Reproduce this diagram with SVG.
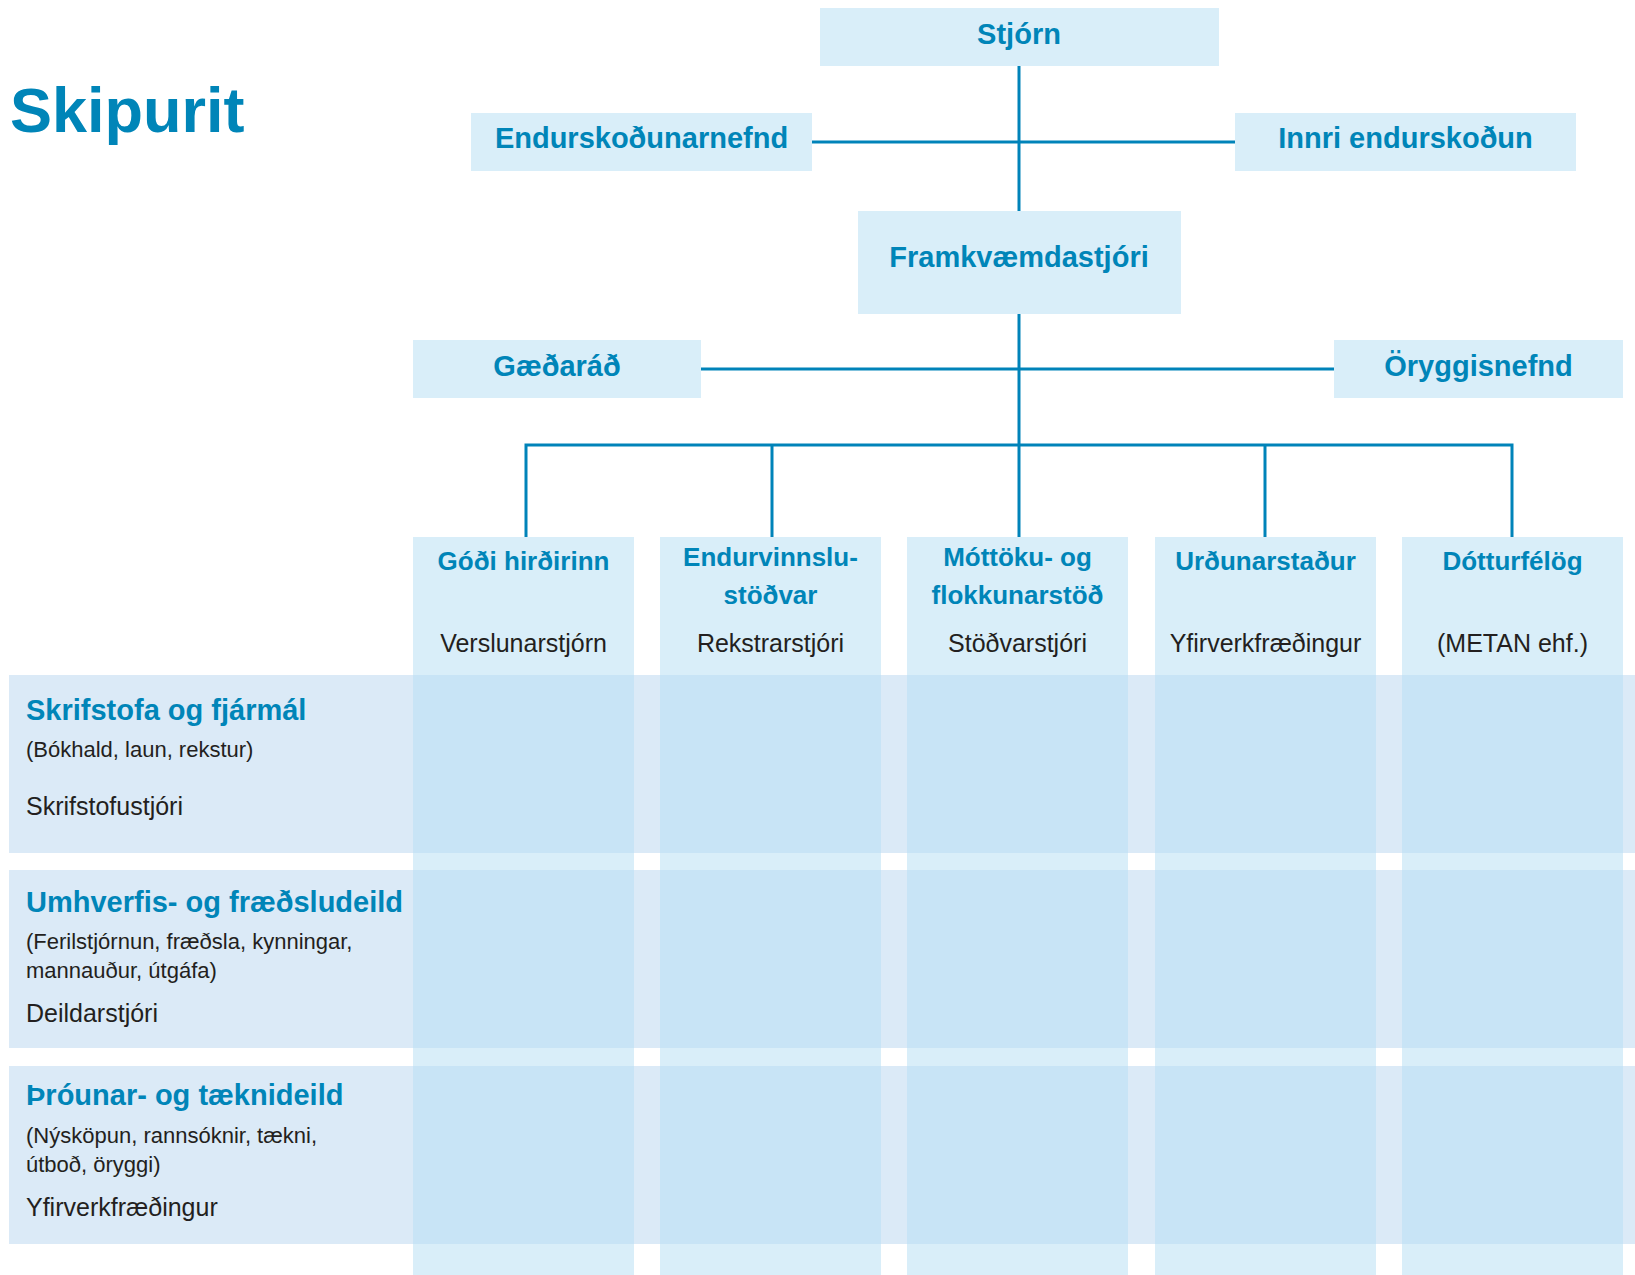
<svg xmlns="http://www.w3.org/2000/svg" width="1635" height="1275" viewBox="0 0 1635 1275">
<defs>
<style>
.box{fill:#d9eef9}
.col{fill:#d9eef9}
.row{fill:#dbeaf7}
.ov{fill:#c8e4f6}
.conn{stroke:#0083b9;stroke-width:3;fill:none}
.t{font-family:"Liberation Sans",Arial,sans-serif;font-weight:bold;fill:#0085b8;font-size:29px}
.h{font-family:"Liberation Sans",Arial,sans-serif;font-weight:bold;fill:#0085b8;font-size:26px;text-anchor:middle}
.r{font-family:"Liberation Sans",Arial,sans-serif;fill:#231f20;font-size:25px}
.s{font-family:"Liberation Sans",Arial,sans-serif;fill:#231f20;font-size:22px}
.mid{text-anchor:middle}
</style>
<clipPath id="rowsClip">
<rect x="9" y="675" width="1626" height="178"/>
<rect x="9" y="870" width="1626" height="178"/>
<rect x="9" y="1066" width="1626" height="178"/>
</clipPath>
</defs>
<rect width="1635" height="1275" fill="#ffffff"/>

<text id="title" x="10" y="132" font-family="Liberation Sans, Arial, sans-serif" font-weight="bold" font-size="63" fill="#0085b8">Skipurit</text>

<!-- columns -->
<g id="columns-bg">
<rect class="col" x="413" y="537" width="221" height="738"/>
<rect class="col" x="660" y="537" width="221" height="738"/>
<rect class="col" x="907" y="537" width="221" height="738"/>
<rect class="col" x="1155" y="537" width="221" height="738"/>
<rect class="col" x="1402" y="537" width="221" height="738"/>
</g>
<!-- rows -->
<g id="rows-bg">
<rect class="row" x="9" y="675" width="1626" height="178"/>
<rect class="row" x="9" y="870" width="1626" height="178"/>
<rect class="row" x="9" y="1066" width="1626" height="178"/>
</g>
<g id="overlaps" clip-path="url(#rowsClip)">
<rect class="ov" x="413" y="537" width="221" height="738"/>
<rect class="ov" x="660" y="537" width="221" height="738"/>
<rect class="ov" x="907" y="537" width="221" height="738"/>
<rect class="ov" x="1155" y="537" width="221" height="738"/>
<rect class="ov" x="1402" y="537" width="221" height="738"/>
</g>

<!-- connectors -->
<g id="connectors">
<line class="conn" x1="1019" y1="66" x2="1019" y2="211"/>
<line class="conn" x1="812" y1="142" x2="1235" y2="142"/>
<line class="conn" x1="1019" y1="314" x2="1019" y2="537"/>
<line class="conn" x1="701" y1="369" x2="1334" y2="369"/>
<polyline class="conn" points="526,537 526,445 1512,445 1512,537"/>
<line class="conn" x1="772" y1="445" x2="772" y2="537"/>
<line class="conn" x1="1265" y1="445" x2="1265" y2="537"/>
</g>

<g id="stjorn">
<rect class="box" x="820" y="8" width="399" height="58"/>
<text class="t mid" x="1019" y="44">Stjórn</text>
</g>
<g id="endurskodunarnefnd">
<rect class="box" x="471" y="113" width="341" height="58"/>
<text class="t mid" x="641.5" y="148">Endurskoðunarnefnd</text>
</g>
<g id="innri-endurskodun">
<rect class="box" x="1235" y="113" width="341" height="58"/>
<text class="t mid" x="1405.5" y="148">Innri endurskoðun</text>
</g>
<g id="framkvaemdastjori">
<rect class="box" x="858" y="211" width="323" height="103"/>
<text class="t mid" x="1019" y="267">Framkvæmdastjóri</text>
</g>
<g id="gaedarad">
<rect class="box" x="413" y="340" width="288" height="58"/>
<text class="t mid" x="557" y="376">Gæðaráð</text>
</g>
<g id="oryggisnefnd">
<rect class="box" x="1334" y="340" width="289" height="58"/>
<text class="t mid" x="1478.5" y="376">Öryggisnefnd</text>
</g>

<g id="godi-hirdirinn">
<text class="h" x="523.5" y="570">Góði hirðirinn</text>
<text class="r mid" x="523.5" y="652">Verslunarstjórn</text>
</g>
<g id="endurvinnslustodvar">
<text class="h" x="770.5" y="566">Endurvinnslu-</text>
<text class="h" x="770.5" y="604">stöðvar</text>
<text class="r mid" x="770.5" y="652">Rekstrarstjóri</text>
</g>
<g id="mottoku">
<text class="h" x="1017.5" y="566">Móttöku- og</text>
<text class="h" x="1017.5" y="604">flokkunarstöð</text>
<text class="r mid" x="1017.5" y="652">Stöðvarstjóri</text>
</g>
<g id="urdunarstadur">
<text class="h" x="1265.5" y="570">Urðunarstaður</text>
<text class="r mid" x="1265.5" y="652">Yfirverkfræðingur</text>
</g>
<g id="dotturfelog">
<text class="h" x="1512.5" y="570">Dótturfélög</text>
<text class="r mid" x="1512.5" y="652">(METAN ehf.)</text>
</g>

<g id="skrifstofa">
<text class="t" x="26" y="720">Skrifstofa og fjármál</text>
<text class="s" x="26" y="757">(Bókhald, laun, rekstur)</text>
<text class="r" x="26" y="815">Skrifstofustjóri</text>
</g>
<g id="umhverfis">
<text class="t" x="26" y="912">Umhverfis- og fræðsludeild</text>
<text class="s" x="26" y="949">(Ferilstjórnun, fræðsla, kynningar,</text>
<text class="s" x="26" y="978">mannauður, útgáfa)</text>
<text class="r" x="26" y="1022">Deildarstjóri</text>
</g>
<g id="throunar">
<text class="t" x="26" y="1105">Þróunar- og tæknideild</text>
<text class="s" x="26" y="1143">(Nýsköpun, rannsóknir, tækni,</text>
<text class="s" x="26" y="1172">útboð, öryggi)</text>
<text class="r" x="26" y="1216">Yfirverkfræðingur</text>
</g>
</svg>
